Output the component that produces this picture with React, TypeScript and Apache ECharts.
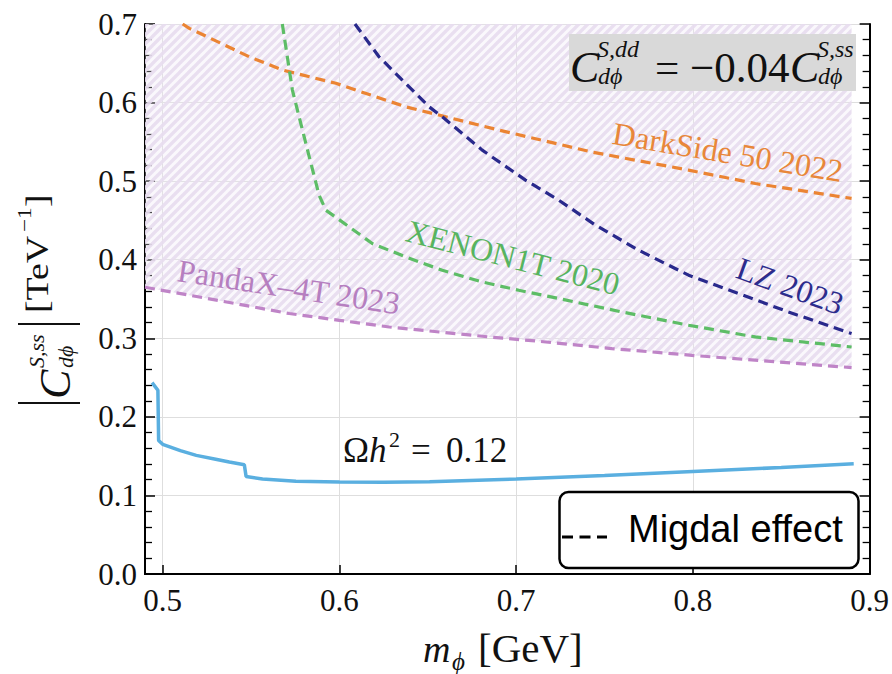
import React, { useEffect, useRef } from "react";
import * as echarts from "echarts";

// ---------- data ----------
const relicX = [0.494, 0.4973, 0.4977, 0.5, 0.51, 0.519, 0.53, 0.5377, 0.5462, 0.5472, 0.5565, 0.5754, 0.6, 0.625, 0.651, 0.7, 0.75, 0.8, 0.85, 0.891];
const relicY = [0.2436, 0.2338, 0.17, 0.165, 0.157, 0.151, 0.146, 0.1425, 0.139, 0.124, 0.1208, 0.118, 0.117, 0.1168, 0.1175, 0.1208, 0.1255, 0.1306, 0.1355, 0.1404];

const darkSideX = [0.5113, 0.5151, 0.549, 0.5678, 0.598, 0.6375, 0.6563, 0.6902, 0.743, 0.7976, 0.8353, 0.8898];
const darkSideY = [0.7, 0.6945, 0.6583, 0.6414, 0.6245, 0.5946, 0.5841, 0.565, 0.537, 0.514, 0.497, 0.478];

const xenonX = [0.5677, 0.5734, 0.581, 0.5885, 0.5923, 0.6055, 0.6186, 0.6375, 0.6582, 0.6808, 0.7015, 0.7241, 0.7599, 0.7976, 0.8353, 0.8898];
const xenonY = [0.7, 0.6159, 0.548, 0.4822, 0.4631, 0.4418, 0.4206, 0.4036, 0.3866, 0.3717, 0.3611, 0.3506, 0.3335, 0.3166, 0.3017, 0.2889];

const lzX = [0.6088, 0.6224, 0.6356, 0.6507, 0.6582, 0.6808, 0.7053, 0.7241, 0.7449, 0.7693, 0.7976, 0.8258, 0.8541, 0.8898];
const lzY = [0.7, 0.6583, 0.6287, 0.5947, 0.5819, 0.5395, 0.5013, 0.4758, 0.444, 0.4121, 0.3803, 0.357, 0.3335, 0.306];

const pandaX = [0.49, 0.5151, 0.5433, 0.5716, 0.6, 0.6282, 0.6565, 0.6847, 0.7129, 0.7542, 0.7994, 0.8484, 0.8898];
const pandaY = [0.365, 0.3548, 0.3433, 0.3315, 0.3229, 0.3144, 0.308, 0.3017, 0.2962, 0.2869, 0.2783, 0.2698, 0.2627];

const xTicks = [0.5, 0.6, 0.7, 0.8, 0.9];

const SERIF = '"Liberation Serif", "Times New Roman", serif';
const SERIF_PLAIN = "Liberation Serif";
const SANS = '"Liberation Sans", Arial, sans-serif';

const zip = (xs: number[], ys: number[]) => xs.map((x, i) => [x, ys[i]]);

const hatchSvg =
  "data:image/svg+xml;charset=utf-8," +
  encodeURIComponent(
    '<svg xmlns="http://www.w3.org/2000/svg" width="9" height="9">' +
      '<rect width="9" height="9" fill="rgb(240,233,245)" fill-opacity="0.3"/>' +
      '<path d="M-3,3 L3,-3 M0,9 L9,0 M6,12 L12,6" stroke="rgb(232,221,240)" stroke-opacity="0.9" stroke-width="3.4"/>' +
      "</svg>"
  );

// text helper: baseline positioning
const txt = (text: string, x: number, baseline: number, size: number, opts: any = {}) => ({
  type: "text",
  x,
  y: baseline - 0.34 * size * (opts.scaleY ?? 1),
  silent: true,
  z: opts.z ?? 100,
  rotation: opts.rotation ?? 0,
  scaleX: opts.scaleX ?? 1,
  scaleY: opts.scaleY ?? 1,
  style: {
    text,
    font: `${opts.italic ? "italic " : ""}${size}px ${opts.family ?? SERIF}`,
    fill: opts.color ?? "#111",
    align: opts.align ?? "left",
    verticalAlign: "middle",
  },
});

const rotLabel = (text: string, x: number, y: number, deg: number, color: string, size = 32) => ({
  type: "text",
  x,
  y,
  rotation: (-deg * Math.PI) / 180,
  silent: true,
  z: 50,
  style: {
    text,
    font: `${size}px ${SERIF}`,
    fill: color,
    align: "left",
    verticalAlign: "middle",
  },
});

export default function App() {
  const ref = useRef<HTMLDivElement>(null);
  useEffect(() => {
    if (!ref.current) return;
    const chart = echarts.init(ref.current, undefined, { renderer: "svg" });

    const dashed = (name: string, xs: number[], ys: number[], color: string, extra: any = {}) => ({
      name,
      type: "line",
      data: zip(xs, ys),
      showSymbol: false,
      symbol: "none",
      smooth: false,
      lineStyle: { color, width: 3.2, type: [10, 6] },
      z: 5,
      ...extra,
    });

    const richT = { t: { fontFamily: SERIF, fontSize: 31, color: "#111" } };

    const option: any = {
      animation: false,
      backgroundColor: "#ffffff",
      textStyle: { fontFamily: SERIF },
      grid: { left: 145, top: 24, right: 19, bottom: 100, containLabel: false },
      xAxis: [
        {
          type: "value",
          min: 0.49,
          max: 0.9,
          splitNumber: 4,
          axisLine: { show: true, lineStyle: { color: "#000", width: 2 } },
          axisTick: { show: true, inside: true, length: 9, lineStyle: { color: "#000", width: 1.5 } },
          axisLabel: {
            fontFamily: SERIF_PLAIN,
            fontSize: 31,
            color: "#111",
            showMinLabel: false,
            margin: 11,
            rich: richT,
            formatter: (v: number) =>
              xTicks.some((t) => Math.abs(t - v) < 1e-6) ? `{t|${v.toFixed(1)}}` : "",
          },
          splitLine: { show: true, lineStyle: { color: "#dedede", width: 1 } },
        },
        {
          type: "value",
          position: "top",
          min: 0.49,
          max: 0.9,
          axisLine: { show: true, lineStyle: { color: "#000", width: 2 } },
          axisTick: { show: false },
          axisLabel: { show: false },
          splitLine: { show: false },
        },
      ],
      yAxis: [
        {
          type: "value",
          min: 0,
          max: 0.7,
          interval: 0.1,
          axisLine: { show: true, lineStyle: { color: "#000", width: 2 } },
          axisTick: { show: true, inside: true, length: 10, lineStyle: { color: "#000", width: 1.5 } },
          minorTick: { show: true, splitNumber: 5, length: 7, lineStyle: { color: "#000", width: 1.3 } },
          axisLabel: {
            fontFamily: SERIF_PLAIN,
            fontSize: 31,
            color: "#111",
            margin: 8,
            rich: richT,
            formatter: (v: number) => `{t|${v.toFixed(1)}}`,
          },
          splitLine: { show: true, lineStyle: { color: "#dedede", width: 1 } },
        },
        {
          type: "value",
          position: "right",
          min: 0,
          max: 0.7,
          interval: 0.1,
          axisLine: { show: true, lineStyle: { color: "#000", width: 2 } },
          axisTick: { show: true, inside: true, length: 10, lineStyle: { color: "#000", width: 1.5 } },
          minorTick: { show: true, splitNumber: 5, length: 7, lineStyle: { color: "#000", width: 1.3 } },
          axisLabel: { show: false },
          splitLine: { show: false },
        },
      ],
      series: [
        {
          name: "PandaX-4T 2023",
          type: "line",
          data: zip(pandaX, pandaY),
          showSymbol: false,
          symbol: "none",
          lineStyle: { color: "#bf84c7", width: 3.2, type: [10, 6] },
          areaStyle: {
            origin: "end",
            opacity: 1,
            color: { image: hatchSvg, repeat: "repeat", imageWidth: 9, imageHeight: 9 },
          },
          z: 3,
        },
        dashed("DarkSide 50 2022", darkSideX, darkSideY, "#eb8433"),
        dashed("XENON1T 2020", xenonX, xenonY, "#5dbd66"),
        dashed("LZ 2023", lzX, lzY, "#29298c"),
        {
          name: "relic",
          type: "line",
          data: zip(relicX, relicY),
          showSymbol: false,
          symbol: "none",
          lineStyle: { color: "#5aafe0", width: 3.5 },
          z: 6,
        },
      ],
      graphic: [
        // annotation box
        { type: "rect", shape: { x: 569, y: 34, width: 287, height: 57 }, style: { fill: "#d9d9d9" }, z: 90, silent: true },
        txt("C", 570, 82, 44, { italic: true }),
        txt("S,dd", 597, 57, 24, { italic: true }),
        txt("dϕ", 598, 84, 24, { italic: true }),
        txt("= −0.04", 655, 82, 43),
        txt("C", 790, 82, 44, { italic: true }),
        txt("S,ss", 817, 57, 24, { italic: true }),
        txt("dϕ", 818, 84, 24, { italic: true }),

        // relic label
        txt("Ω", 343, 462, 35),
        txt("h", 369, 462, 35, { italic: true }),
        txt("2", 389, 447, 22),
        txt("=", 411, 462, 35),
        txt("0.12", 446, 462, 35),

        // curve labels
        rotLabel("DarkSide 50 2022", 613, 133, 9.5, "#e8873a"),
        rotLabel("XENON1T 2020", 407, 230, 14.5, "#57b45f"),
        rotLabel("LZ 2023", 738, 267, 20, "#2c2c8c"),
        rotLabel("PandaX–4T 2023", 178, 270, 8.6, "#b67fc0"),

        // legend box
        {
          type: "rect",
          shape: { x: 559.5, y: 492, width: 299, height: 76, r: 9 },
          style: { fill: "#fff", stroke: "#000", lineWidth: 2.5 },
          z: 95,
          silent: true,
        },
        {
          type: "line",
          shape: { x1: 562, y1: 537, x2: 607, y2: 537 },
          style: { stroke: "#000", lineWidth: 3, lineDash: [11, 6.5] },
          z: 96,
          silent: true,
        },
        txt("Migdal effect", 628, 542, 38, { family: SANS, color: "#000", z: 96 }),

        // x axis title
        txt("m", 423, 662, 38, { italic: true }),
        txt("ϕ", 452, 670, 25, { italic: true }),
        txt("[GeV]", 478, 662, 41),

        // y axis title (rotated)
        {
          type: "group",
          x: 70,
          y: 405,
          rotation: Math.PI / 2,
          silent: true,
          children: [
            { type: "line", shape: { x1: 2, y1: -52, x2: 2, y2: 10 }, style: { stroke: "#111", lineWidth: 2 } },
            txt("C", 6, 0, 44, { italic: true }),
            txt("S,ss", 37, -26, 22, { italic: true }),
            txt("dϕ", 37, 3, 22, { italic: true }),
            { type: "line", shape: { x1: 81, y1: -52, x2: 81, y2: 10 }, style: { stroke: "#111", lineWidth: 2 } },
            txt("[TeV", 92, -22, 31, { scaleX: 1.22 }),
            txt("−1", 173, -39, 19, { scaleX: 1.22 }),
            txt("]", 198, -22, 31, { scaleX: 1.22 }),
          ],
        },
      ],
    };

    chart.setOption(option);
    return () => chart.dispose();
  }, []);

  return (
    <div
      ref={ref}
      style={{ position: "fixed", left: 0, top: 0, width: 892, height: 674, background: "#fff" }}
    />
  );
}
